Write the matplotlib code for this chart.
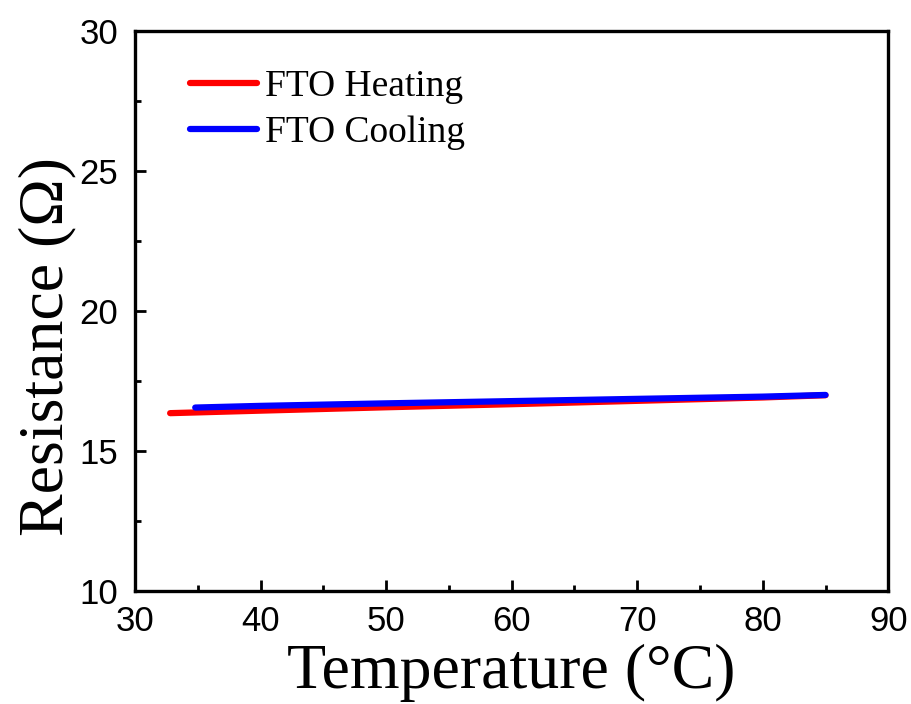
import matplotlib.pyplot as plt
from matplotlib.ticker import MultipleLocator

heat_t = [32.8, 40, 50, 60, 70, 80, 85]
heat_r = [16.36, 16.45, 16.57, 16.68, 16.80, 16.92, 17.00]
cool_t = [34.8, 40, 50, 60, 70, 80, 85]
cool_r = [16.56, 16.62, 16.71, 16.79, 16.87, 16.95, 17.01]

fig = plt.figure(figsize=(9.12, 7.04), dpi=100)
ax = fig.add_axes([0.148, 0.160, 0.826, 0.796])

ax.plot(heat_t, heat_r, color='#ff0000', lw=4.5, solid_capstyle='round', label='FTO Heating')
ax.plot(cool_t, cool_r, color='#0000ff', lw=4.5, solid_capstyle='round', label='FTO Cooling')

ax.set_xlim(30, 90)
ax.set_ylim(10, 30)
ax.xaxis.set_major_locator(MultipleLocator(10))
ax.xaxis.set_minor_locator(MultipleLocator(5))
ax.yaxis.set_major_locator(MultipleLocator(5))
ax.yaxis.set_minor_locator(MultipleLocator(2.5))
ax.tick_params(which='both', direction='in', width=2, top=False, right=False)
ax.tick_params(which='major', length=8, labelsize=25)
ax.tick_params(axis='x', which='major', pad=10)
ax.tick_params(axis='y', which='major', pad=12)
ax.tick_params(which='minor', length=4.5)
for lab in ax.get_xticklabels() + ax.get_yticklabels():
    lab.set_fontfamily('Liberation Sans')
for s in ax.spines.values():
    s.set_linewidth(2.4)

ax.set_xlabel('Temperature (°C)', fontsize=46, family='Liberation Serif', labelpad=4)
ax.set_ylabel('Resistance (Ω)', fontsize=46, family='Liberation Serif')
ax.yaxis.set_label_coords(-0.078, 0.436)

ax.legend(loc='upper left', frameon=False, prop={'family': 'Liberation Serif', 'size': 27},
          handlelength=1.8, handletextpad=0.2, labelspacing=0.3,
          bbox_to_anchor=(0.028, 0.991))

fig.savefig('out.png', dpi=100)
